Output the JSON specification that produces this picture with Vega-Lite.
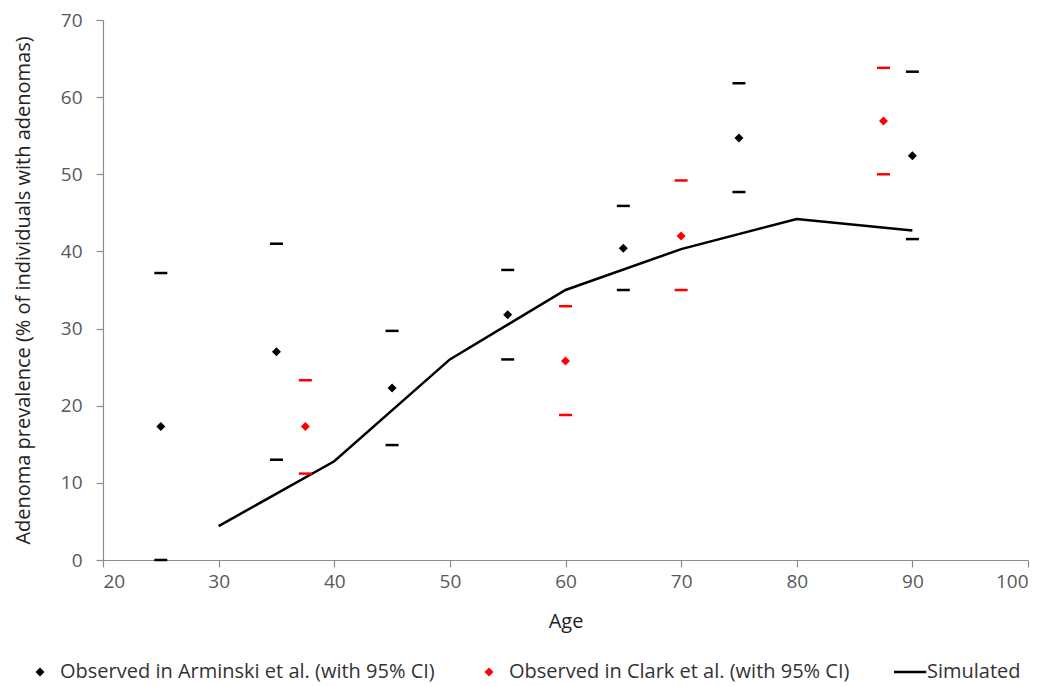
{
  "$schema": "https://vega.github.io/schema/vega-lite/v6.json",
  "width": 925,
  "height": 540,
  "autosize": {"type": "none"},
  "padding": {"left": 103, "top": 20, "right": 22, "bottom": 126},
  "background": "white",
  "config": {
    "font": "Open Sans",
    "view": {"stroke": null},
    "axis": {
      "grid": false,
      "domainColor": "#8c8c8c",
      "tickColor": "#8c8c8c",
      "domainWidth": 1.2,
      "tickWidth": 1.2,
      "tickSize": 7,
      "labelColor": "#595959",
      "labelFontSize": 19,
      "titleFontSize": 20,
      "titleFontWeight": "normal",
      "titleColor": "#222222"
    },
    "legend": {
      "title": null, "orient": "none", "direction": "horizontal",
      "legendX": -73, "legendY": 642, "labelLimit": 0,
      "labelFontSize": 20, "labelColor": "#333333",
      "symbolSize": 80, "symbolStrokeWidth": 0, "labelOffset": 10, "columnPadding": 44
    }
  },
  "datasets": {
    "obs": [
      {"series": "Observed in Arminski et al. (with 95% CI)", "age": 25, "est": 17.3, "lower": 0, "upper": 37.2},
      {"series": "Observed in Arminski et al. (with 95% CI)", "age": 35, "est": 27.0, "lower": 13.0, "upper": 41.0},
      {"series": "Observed in Arminski et al. (with 95% CI)", "age": 45, "est": 22.3, "lower": 14.9, "upper": 29.7},
      {"series": "Observed in Arminski et al. (with 95% CI)", "age": 55, "est": 31.8, "lower": 26.0, "upper": 37.6},
      {"series": "Observed in Arminski et al. (with 95% CI)", "age": 65, "est": 40.4, "lower": 35.0, "upper": 45.9},
      {"series": "Observed in Arminski et al. (with 95% CI)", "age": 75, "est": 54.7, "lower": 47.7, "upper": 61.8},
      {"series": "Observed in Arminski et al. (with 95% CI)", "age": 90, "est": 52.4, "lower": 41.6, "upper": 63.3},
      {"series": "Observed in Clark et al. (with 95% CI)", "age": 37.5, "est": 17.3, "lower": 11.2, "upper": 23.3},
      {"series": "Observed in Clark et al. (with 95% CI)", "age": 60, "est": 25.8, "lower": 18.8, "upper": 32.9},
      {"series": "Observed in Clark et al. (with 95% CI)", "age": 70, "est": 42.0, "lower": 35.0, "upper": 49.2},
      {"series": "Observed in Clark et al. (with 95% CI)", "age": 87.5, "est": 56.9, "lower": 50.0, "upper": 63.8}
    ],
    "sim": [
      {"age": 30, "prev": 4.4},
      {"age": 40, "prev": 12.8},
      {"age": 50, "prev": 26.0},
      {"age": 60, "prev": 35.0},
      {"age": 70, "prev": 40.3},
      {"age": 80, "prev": 44.2},
      {"age": 90, "prev": 42.7}
    ]
  },
  "layer": [
    {
      "data": {"name": "obs"},
      "mark": {"type": "point", "filled": true, "size": 80, "opacity": 1},
      "encoding": {
        "x": {"field": "age", "type": "quantitative"},
        "y": {"field": "est", "type": "quantitative"},
        "color": {
          "field": "series", "type": "nominal",
          "scale": {
            "domain": ["Observed in Arminski et al. (with 95% CI)", "Observed in Clark et al. (with 95% CI)", "Simulated"],
            "range": ["#000000", "#ff0000", "#000000"]
          }
        },
        "shape": {
          "field": "series", "type": "nominal",
          "scale": {
            "domain": ["Observed in Arminski et al. (with 95% CI)", "Observed in Clark et al. (with 95% CI)", "Simulated"],
            "range": ["diamond", "diamond", "M-2.9,-0.3H4.3V0.3H-2.9Z"]
          }
        }
      }
    },
    {
      "data": {"name": "sim"},
      "mark": {"type": "line", "color": "#000000", "strokeWidth": 2.5},
      "encoding": {
        "x": {
          "field": "age", "type": "quantitative",
          "scale": {"domain": [20, 100], "nice": false, "zero": false},
          "axis": {"title": "Age", "values": [20, 30, 40, 50, 60, 70, 80, 90, 100], "labelPadding": 5, "titlePadding": 20}
        },
        "y": {
          "field": "prev", "type": "quantitative",
          "scale": {"domain": [0, 70], "nice": false},
          "axis": {"title": "Adenoma prevalence (% of individuals with adenomas)", "values": [0, 10, 20, 30, 40, 50, 60, 70], "labelPadding": 14, "titlePadding": 27}
        }
      }
    },
    {
      "data": {"name": "obs"},
      "mark": {"type": "tick", "orient": "horizontal", "size": 13, "thickness": 2.5, "opacity": 1},
      "encoding": {
        "x": {"field": "age", "type": "quantitative"},
        "y": {"field": "lower", "type": "quantitative"},
        "color": {"field": "series", "type": "nominal"}
      }
    },
    {
      "data": {"name": "obs"},
      "mark": {"type": "tick", "orient": "horizontal", "size": 13, "thickness": 2.5, "opacity": 1},
      "encoding": {
        "x": {"field": "age", "type": "quantitative"},
        "y": {"field": "upper", "type": "quantitative"},
        "color": {"field": "series", "type": "nominal"}
      }
    }
  ]
}
